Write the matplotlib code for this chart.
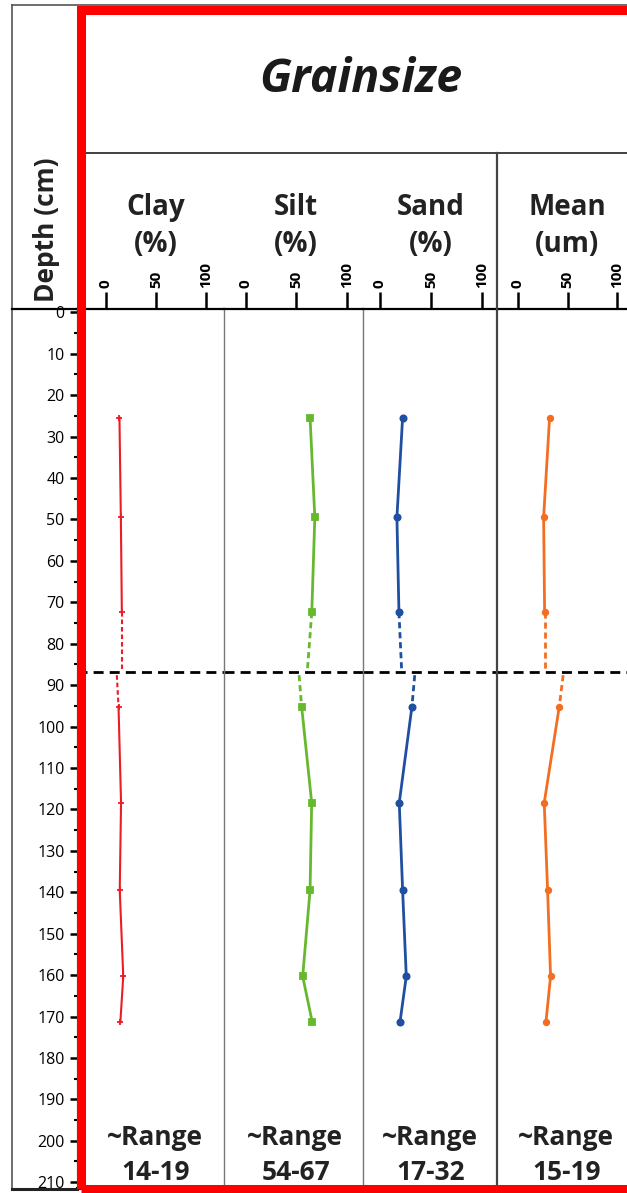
import matplotlib
matplotlib.use('Agg')
import matplotlib.pyplot as plt
from matplotlib.patches import Rectangle
from matplotlib.lines import Line2D

plt.rcParams['font.family'] = ['Open Sans', 'DejaVu Sans']

depth = [25.4, 49.5, 72.4, 95.3, 118.4, 139.5, 160.3, 171.4]
clay = [13.7, 15.1, 16.1, 12.8, 15.3, 14.0, 17.5, 14.6]
silt = [63.7, 68.4, 65.4, 55.4, 65.3, 63.7, 56.4, 65.9]
sand = [22.3, 16.7, 18.7, 31.4, 19.0, 22.3, 25.9, 19.7]
mean = [31.9, 25.9, 26.9, 41.6, 26.5, 29.9, 32.9, 28.2]

# Unit boundary and the dashed ends either side of it
boundary = 86.8
edge_depth = [86.2, 87.6]
clay_edge = [16.1, 11.1]
silt_edge = [61.1, 52.8]
sand_edge = [21.3, 34.2]
mean_edge = [26.9, 45.6]

names = ['Clay', 'Silt', 'Sand', 'Mean']
units = ['(%)', '(%)', '(%)', '(um)']
ranges = ['14-19', '54-67', '17-32', '15-19']
xticks = [0, 50, 100]
depth_ticks = list(range(0, 211, 10))

colors = ['#ec1c24', '#66b82e', '#1f4fa0', '#f26e21']
markers = ['+', 's', 'o', 'o']

W, H = 627, 1193
fig = plt.figure(figsize=(W / 100, H / 100), dpi=100)


def fx(x):
    return x / W


def fy(y):
    return 1 - y / H


# panel edges in pixels and x limits
top, bottom = 309, 1188
edges = [(77, 224.3), (224.3, 362.6), (362.6, 497), (497, 634)]
xlims = [(-28.6, 118.2), (-21.2, 115.7), (-17.0, 115.0), (-21.1, 117.0)]
series = [clay, silt, sand, mean]
edge_vals = [clay_edge, silt_edge, sand_edge, mean_edge]
lws = [1.5, 2.0, 2.0, 2.0]
mss = [5, 4.5, 4.5, 4]
centers = [156, 296, 431, 567]

axs = []
for i in range(4):
    l, r = edges[i]
    ax = fig.add_axes([fx(l), fy(bottom), (r - l) / W, (bottom - top) / H])
    axs.append(ax)
    vals = series[i]
    c = colors[i]
    # solid parts above and below the boundary
    ax.plot(vals[:3], depth[:3], '-', color=c, lw=lws[i], marker=markers[i],
            ms=mss[i], mew=1.3, zorder=3)
    ax.plot(vals[3:], depth[3:], '-', color=c, lw=lws[i], marker=markers[i],
            ms=mss[i], mew=1.3, zorder=3)
    # dashed links to the boundary
    ax.plot([vals[2], edge_vals[i][0]], [depth[2], edge_depth[0]], color=c,
            lw=lws[i], dashes=(2.2, 1.4), zorder=3)
    ax.plot([edge_vals[i][1], vals[3]], [edge_depth[1], depth[3]], color=c,
            lw=lws[i], dashes=(2.2, 1.4), zorder=3)
    ax.axhline(boundary, color='black', lw=2, dashes=(3.6, 2.2), zorder=2)

    ax.set_xlim(*xlims[i])
    ax.set_ylim(211.4, -0.8)
    ax.xaxis.tick_top()
    ax.set_xticks(xticks)
    ax.set_xticklabels([str(t) for t in xticks], rotation=90,
                       fontweight='bold')
    ax.tick_params(axis='x', direction='out', length=12, width=1.8, pad=3,
                   labelsize=11, colors='black')
    ax.spines['right'].set_visible(False)
    ax.spines['top'].set_linewidth(1.6)
    ax.spines['bottom'].set_linewidth(2.2)
    if i == 0:
        ax.set_yticks(depth_ticks)
        ax.set_yticks(range(5, 211, 10), minor=True)
        ax.tick_params(axis='y', which='major', direction='out', length=5,
                       width=1.8, pad=4, labelsize=11.5)
        ax.tick_params(axis='y', which='minor', direction='out', length=2,
                       width=1.5)
    else:
        ax.set_yticks([])
        if i == 3:
            ax.spines['left'].set_color('#444444')
            ax.spines['left'].set_linewidth(1.6)
        else:
            ax.spines['left'].set_color('#777777')
            ax.spines['left'].set_linewidth(1.0)

    # column headings and range notes
    fig.text(fx(centers[i]), fy(215), names[i], ha='center', va='baseline',
             fontsize=20, fontweight='bold', color='#222222')
    fig.text(fx(centers[i]), fy(252), units[i], ha='center', va='baseline',
             fontsize=20, fontweight='bold', color='#222222')
    fig.text(fx(centers[i] - 1), fy(1145), '~Range', ha='center',
             va='baseline', fontsize=19, fontweight='bold', color='#222222')
    fig.text(fx(centers[i]), fy(1180), ranges[i], ha='center', va='baseline',
             fontsize=19, fontweight='bold', color='#222222')

# header frame lines
fig.add_artist(Line2D([fx(12), fx(12)], [fy(5), fy(1189)], color='#555555', lw=1.2))
fig.add_artist(Line2D([fx(12), fx(W)], [fy(5), fy(5)], color='#555555', lw=1.2))
fig.add_artist(Line2D([fx(85), fx(W)], [fy(153), fy(153)], color='#333333', lw=1.3))
fig.add_artist(Line2D([fx(12), fx(77)], [fy(309), fy(309)], color='black', lw=1.6))
fig.add_artist(Line2D([fx(497), fx(497)], [fy(153), fy(309)], color='#444444', lw=1.6))
fig.add_artist(Line2D([fx(12), fx(77)], [fy(1188.5), fy(1188.5)], color='#222222', lw=2.2))

fig.text(fx(361), fy(80), 'Grainsize', ha='center', va='center', fontsize=33.5,
         fontweight='bold', fontstyle='italic', color='#1a1a1a')
fig.text(fx(47), fy(230), 'Depth (cm)', ha='center', va='center',
         rotation=90, fontsize=19, fontweight='bold', color='#222222')

# red highlight box
fig.add_artist(Rectangle((fx(80.5), fy(1188.5)), fx(700), (1188.5 - 9.5) / H,
                         fill=False, edgecolor='#ff0000', lw=6.5,
                         zorder=10, clip_on=False))

fig.savefig('out.png', dpi=100)
